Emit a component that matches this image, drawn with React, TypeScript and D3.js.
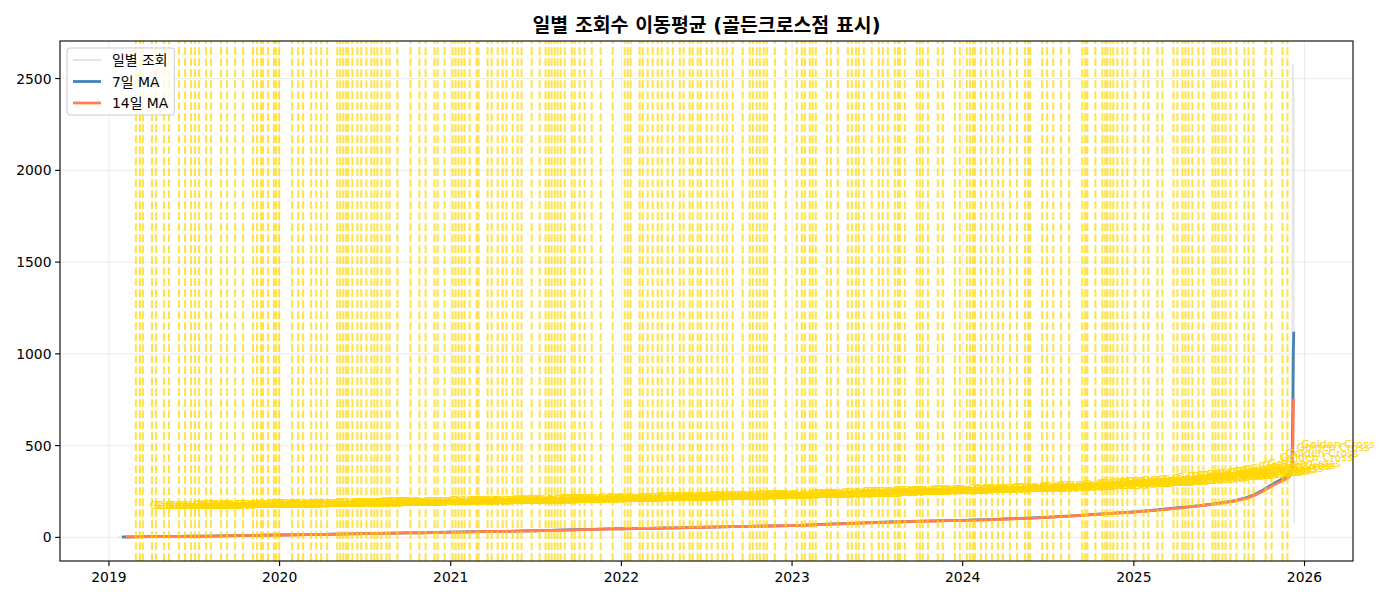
import React, { useEffect, useRef, useState } from 'react';
import * as d3 from 'd3';

// ---------- text ----------
const TITLE = '일별 조회수 이동평균 (골든크로스점 표시)';
const LEGEND_LABELS = ['일별 조회', '7일 MA', '14일 MA'];
const CROSS_LABEL = 'Golden Cross';

// ---------- ticks ----------
const Y_TICKS = [0, 500, 1000, 1500, 2000, 2500];
const X_TICK_YEARS = [2019, 2020, 2021, 2022, 2023, 2024, 2025, 2026];

// ---------- series ----------
const DATES = [
  '2019-01-22', '2019-01-29', '2019-02-05', '2019-03-01', '2019-04-01', '2019-05-01', '2019-06-01',
  '2019-07-01', '2019-08-01', '2019-09-01', '2019-10-01', '2019-11-01', '2019-12-01',
  '2020-01-01', '2020-02-01', '2020-03-01', '2020-04-01', '2020-05-01', '2020-06-01',
  '2020-07-01', '2020-08-01', '2020-09-01', '2020-10-01', '2020-11-01', '2020-12-01',
  '2021-01-01', '2021-02-01', '2021-03-01', '2021-04-01', '2021-05-01', '2021-06-01',
  '2021-07-01', '2021-08-01', '2021-09-01', '2021-10-01', '2021-11-01', '2021-12-01',
  '2022-01-01', '2022-02-01', '2022-03-01', '2022-04-01', '2022-05-01', '2022-06-01',
  '2022-07-01', '2022-08-01', '2022-09-01', '2022-10-01', '2022-11-01', '2022-12-01',
  '2023-01-01', '2023-02-01', '2023-03-01', '2023-04-01', '2023-05-01', '2023-06-01',
  '2023-07-01', '2023-08-01', '2023-09-01', '2023-10-01', '2023-11-01', '2023-12-01',
  '2024-01-01', '2024-02-01', '2024-03-01', '2024-04-01', '2024-05-01', '2024-06-01',
  '2024-07-01', '2024-08-01', '2024-09-01', '2024-10-01', '2024-11-01', '2024-12-01',
  '2025-01-01', '2025-02-01', '2025-03-01', '2025-04-01', '2025-05-01', '2025-06-01',
  '2025-07-01', '2025-08-01', '2025-09-01', '2025-09-20', '2025-10-05', '2025-10-20',
  '2025-11-01', '2025-11-15', '2025-11-25', '2025-12-01', '2025-12-05', '2025-12-07',
  '2025-12-08', '2025-12-09', '2025-12-10',
];

const RAW_VALUES = [
  2, 3, 1, 4, 6, 3, 7,
  5, 9, 6, 11, 8, 14,
  12, 18, 13, 19, 15, 22,
  17, 25, 20, 27, 22, 30,
  25, 33, 28, 36, 30, 38,
  33, 42, 37, 46, 40, 50,
  44, 52, 46, 55, 49, 58,
  52, 61, 55, 64, 58, 67,
  61, 72, 66, 77, 71, 83,
  77, 89, 82, 94, 86, 97,
  90, 101, 94, 106, 98, 111,
  104, 119, 113, 128, 124, 140,
  133, 150, 146, 165, 162, 182,
  180, 205, 212, 245, 262, 290,
  300, 330, 345, 360, 385, 2576,
  2450, 2380, 80,
];

const MA7_VALUES: (number | null)[] = [
  null, 2, 2, 3, 4, 4, 5,
  6, 7, 8, 9, 10, 12,
  13, 14, 15, 16, 18, 19,
  21, 22, 23, 24, 25, 27,
  28, 30, 31, 32, 33, 35,
  36, 38, 40, 42, 44, 46,
  47, 48, 49, 51, 52, 54,
  56, 57, 59, 60, 62, 63,
  64, 67, 70, 73, 76, 79,
  81, 84, 86, 88, 90, 91,
  93, 95, 97, 100, 103, 106,
  110, 114, 119, 124, 129, 134,
  139, 145, 152, 160, 167, 176,
  186, 198, 218, 238, 258, 282,
  300, 318, 335, 350, 365, 690,
  1000, 1120, null,
];

const MA14_VALUES: (number | null)[] = [
  null, null, 2, 3, 4, 4, 5,
  6, 7, 8, 9, 10, 12,
  13, 14, 15, 16, 17, 19,
  20, 22, 23, 24, 25, 26,
  28, 29, 31, 32, 33, 34,
  36, 38, 39, 41, 43, 45,
  47, 48, 49, 50, 52, 53,
  55, 57, 58, 60, 61, 63,
  64, 66, 69, 72, 75, 78,
  80, 83, 85, 87, 89, 91,
  92, 94, 97, 99, 102, 105,
  109, 113, 118, 123, 128, 133,
  138, 144, 150, 158, 166, 175,
  184, 196, 214, 233, 252, 275,
  292, 308, 322, 336, 348, 515,
  680, 755, null,
];

// golden-cross dates, as decimal years
const CROSS_YEARS = [
  2019.158, 2019.182, 2019.199, 2019.252, 2019.276, 2019.322, 2019.352, 2019.41, 2019.446, 2019.481,
  2019.504, 2019.528, 2019.569, 2019.598, 2019.657, 2019.692, 2019.739, 2019.786, 2019.844, 2019.868,
  2019.891, 2019.903, 2019.932, 2019.967, 2019.979, 2019.997, 2020.073, 2020.108, 2020.137, 2020.184,
  2020.214, 2020.243, 2020.278, 2020.337, 2020.354, 2020.372, 2020.389, 2020.401, 2020.425, 2020.454,
  2020.477, 2020.507, 2020.536, 2020.554, 2020.571, 2020.595, 2020.624, 2020.642, 2020.688, 2020.765,
  2020.817, 2020.853, 2020.905, 2020.923, 2020.964, 2021.011, 2021.028, 2021.046, 2021.064, 2021.081,
  2021.111, 2021.152, 2021.163, 2021.216, 2021.24, 2021.275, 2021.304, 2021.327, 2021.363, 2021.392,
  2021.415, 2021.474, 2021.521, 2021.556, 2021.574, 2021.591, 2021.609, 2021.626, 2021.644, 2021.668,
  2021.709, 2021.726, 2021.755, 2021.785, 2021.826, 2021.879, 2021.949, 2022.019, 2022.037, 2022.054,
  2022.107, 2022.125, 2022.154, 2022.183, 2022.213, 2022.236, 2022.271, 2022.301, 2022.342, 2022.365,
  2022.4, 2022.418, 2022.447, 2022.465, 2022.5, 2022.529, 2022.564, 2022.594, 2022.617, 2022.652,
  2022.711, 2022.752, 2022.77, 2022.793, 2022.811, 2022.834, 2022.852, 2022.899, 2022.963, 2023.028,
  2023.057, 2023.075, 2023.104, 2023.121, 2023.139, 2023.204, 2023.227, 2023.268, 2023.327, 2023.35,
  2023.374, 2023.391, 2023.42, 2023.467, 2023.508, 2023.532, 2023.561, 2023.602, 2023.62, 2023.632,
  2023.661, 2023.731, 2023.749, 2023.766, 2023.796, 2023.854, 2023.884, 2023.954, 2023.983, 2024.024,
  2024.042, 2024.059, 2024.071, 2024.106, 2024.136, 2024.171, 2024.206, 2024.235, 2024.276, 2024.317,
  2024.364, 2024.382, 2024.394, 2024.464, 2024.493, 2024.529, 2024.575, 2024.622, 2024.699, 2024.716,
  2024.728, 2024.775, 2024.816, 2024.833, 2024.845, 2024.863, 2024.88, 2024.904, 2024.933, 2024.962,
  2025.009, 2025.056, 2025.085, 2025.138, 2025.167, 2025.232, 2025.255, 2025.285, 2025.302, 2025.32,
  2025.343, 2025.379, 2025.408, 2025.461, 2025.478, 2025.496, 2025.519, 2025.537, 2025.566, 2025.601,
  2025.648, 2025.672, 2025.701, 2025.772, 2025.807, 2025.871, 2025.9,
];

// ---------- helpers ----------
const yearToDate = (y: number) => {
  const yr = Math.floor(y);
  const s = Date.UTC(yr, 0, 1);
  const e = Date.UTC(yr + 1, 0, 1);
  return new Date(s + (y - yr) * (e - s));
};

const W = 1400;
const H = 600;
const M = { left: 60, right: 1353, top: 41, bottom: 561 };
const FONT = "'DejaVu Sans', 'Noto Sans CJK KR', sans-serif";

const COLORS = {
  raw: '#d9d9d9',
  ma7: '#4682B4',
  ma14: '#FF7F50',
  gold: '#FFD700',
};

export default function App() {
  const dates = DATES.map((d) => new Date(d + 'T00:00:00Z'));
  const rows = dates.map((d, i) => ({ d, raw: RAW_VALUES[i], ma7: MA7_VALUES[i], ma14: MA14_VALUES[i] }));

  const [x0, x1] = d3.extent(dates) as [Date, Date];
  const xpad = (x1.getTime() - x0.getTime()) * 0.05;
  const x = d3
    .scaleUtc()
    .domain([new Date(x0.getTime() - xpad), new Date(x1.getTime() + xpad)])
    .range([M.left, M.right]);

  const yMin = 0;
  const yMax = d3.max(RAW_VALUES) as number;
  const ypad = (yMax - yMin) * 0.05;
  const y = d3.scaleLinear().domain([yMin - ypad, yMax + ypad]).range([M.bottom, M.top]);

  const lineRaw = d3
    .line<any>()
    .x((r) => x(r.d))
    .y((r) => y(r.raw));
  const line7 = d3
    .line<any>()
    .defined((r) => r.ma7 != null)
    .x((r) => x(r.d))
    .y((r) => y(r.ma7));
  const line14 = d3
    .line<any>()
    .defined((r) => r.ma14 != null)
    .x((r) => x(r.d))
    .y((r) => y(r.ma14));

  const ma7Rows = rows.filter((r) => r.ma7 != null);
  const bis = d3.bisector((r: any) => r.d).left;
  const valueAt = (d: Date) => {
    const i = bis(ma7Rows, d);
    if (i <= 0) return ma7Rows[0].ma7 as number;
    if (i >= ma7Rows.length) return ma7Rows[ma7Rows.length - 1].ma7 as number;
    const a = ma7Rows[i - 1];
    const b = ma7Rows[i];
    const t = (d.getTime() - a.d.getTime()) / (b.d.getTime() - a.d.getTime());
    return (a.ma7 as number) + t * ((b.ma7 as number) - (a.ma7 as number));
  };
  const crosses = CROSS_YEARS.map((cy) => {
    const d = yearToDate(cy);
    return { d, v: valueAt(d) };
  });

  const xTicks = X_TICK_YEARS.map((yr) => new Date(Date.UTC(yr, 0, 1)));

  // legend width from text
  const legRef = useRef<SVGGElement>(null);
  const [legW, setLegW] = useState(101);
  useEffect(() => {
    if (!legRef.current) return;
    const texts = legRef.current.querySelectorAll('text');
    let mx = 0;
    texts.forEach((t) => {
      mx = Math.max(mx, (t as SVGTextElement).getComputedTextLength());
    });
    setLegW(112 - 67 + mx + 6);
  }, []);

  const dash = '7.7,3.3';

  return (
    <svg
      width={W}
      height={H}
      style={{ position: 'fixed', left: 0, top: 0, background: '#fff' }}
      fontFamily={FONT}
    >
      <rect x={0} y={0} width={W} height={H} fill="#fff" />
      <defs>
        <clipPath id="plot">
          <rect x={M.left} y={M.top} width={M.right - M.left} height={M.bottom - M.top} />
        </clipPath>
      </defs>

      {/* grid */}
      <g stroke="#b0b0b0" strokeOpacity={0.3} strokeWidth={0.8}>
        {xTicks.map((t, i) => (
          <line key={'gx' + i} x1={x(t)} x2={x(t)} y1={M.top} y2={M.bottom} />
        ))}
        {Y_TICKS.map((t, i) => (
          <line key={'gy' + i} x1={M.left} x2={M.right} y1={y(t)} y2={y(t)} />
        ))}
      </g>

      {/* series */}
      <g clipPath="url(#plot)" fill="none" strokeLinejoin="round" strokeLinecap="butt">
        <path d={lineRaw(rows) || ''} stroke={COLORS.raw} strokeWidth={1.4} strokeOpacity={0.7} />
        <path d={line7(rows) || ''} stroke={COLORS.ma7} strokeWidth={2.8} />
        <path d={line14(rows) || ''} stroke={COLORS.ma14} strokeWidth={2.8} />
      </g>

      {/* golden cross lines */}
      <g clipPath="url(#plot)">
        {crosses.map((c, i) => (
          <line
            key={'cl' + i}
            x1={x(c.d)}
            x2={x(c.d)}
            y1={M.bottom}
            y2={M.top}
            stroke={COLORS.gold}
            strokeOpacity={0.7}
            strokeWidth={2.08}
            strokeDasharray={dash}
          />
        ))}
      </g>

      {/* golden cross labels */}
      <g fontSize={11.1} fill={COLORS.gold}>
        {crosses.map((c, i) => (
          <text key={'ct' + i} x={x(c.d) + 13.9} y={y(c.v) - 28}>
            {CROSS_LABEL}
          </text>
        ))}
      </g>

      {/* frame */}
      <rect
        x={M.left}
        y={M.top}
        width={M.right - M.left}
        height={M.bottom - M.top}
        fill="none"
        stroke="#000"
        strokeWidth={1.1}
      />

      {/* x axis */}
      <g fontSize={13.9} fill="#000" textAnchor="middle">
        {xTicks.map((t, i) => (
          <g key={'xt' + i}>
            <line x1={x(t)} x2={x(t)} y1={M.bottom} y2={M.bottom + 4.9} stroke="#000" strokeWidth={1.1} />
            <text x={x(t)} y={M.bottom + 21}>
              {X_TICK_YEARS[i]}
            </text>
          </g>
        ))}
      </g>

      {/* y axis */}
      <g fontSize={13.9} fill="#000" textAnchor="end">
        {Y_TICKS.map((t, i) => (
          <g key={'yt' + i}>
            <line x1={M.left - 4.9} x2={M.left} y1={y(t)} y2={y(t)} stroke="#000" strokeWidth={1.1} />
            <text x={M.left - 8.5} y={y(t) + 5}>
              {t}
            </text>
          </g>
        ))}
      </g>

      {/* title */}
      <text
        x={(M.left + M.right) / 2}
        y={32}
        textAnchor="middle"
        fontSize={19.4}
        fontWeight="bold"
        fill="#000"
      >
        {TITLE}
      </text>

      {/* legend */}
      <g>
        <rect
          x={67}
          y={48}
          width={legW}
          height={67}
          rx={3}
          fill="#fff"
          fillOpacity={0.8}
          stroke="#cccccc"
          strokeWidth={1}
        />
        <g ref={legRef} fontSize={13.9} fill="#000">
          {LEGEND_LABELS.map((lab, i) => {
            const cy = 60 + i * 21.5;
            const col = i === 0 ? COLORS.raw : i === 1 ? COLORS.ma7 : COLORS.ma14;
            const sw = i === 0 ? 1.4 : 2.8;
            return (
              <g key={'lg' + i}>
                <line x1={73} x2={101} y1={cy} y2={cy} stroke={col} strokeWidth={sw} />
                <text x={112} y={cy + 5}>
                  {lab}
                </text>
              </g>
            );
          })}
        </g>
      </g>
    </svg>
  );
}
